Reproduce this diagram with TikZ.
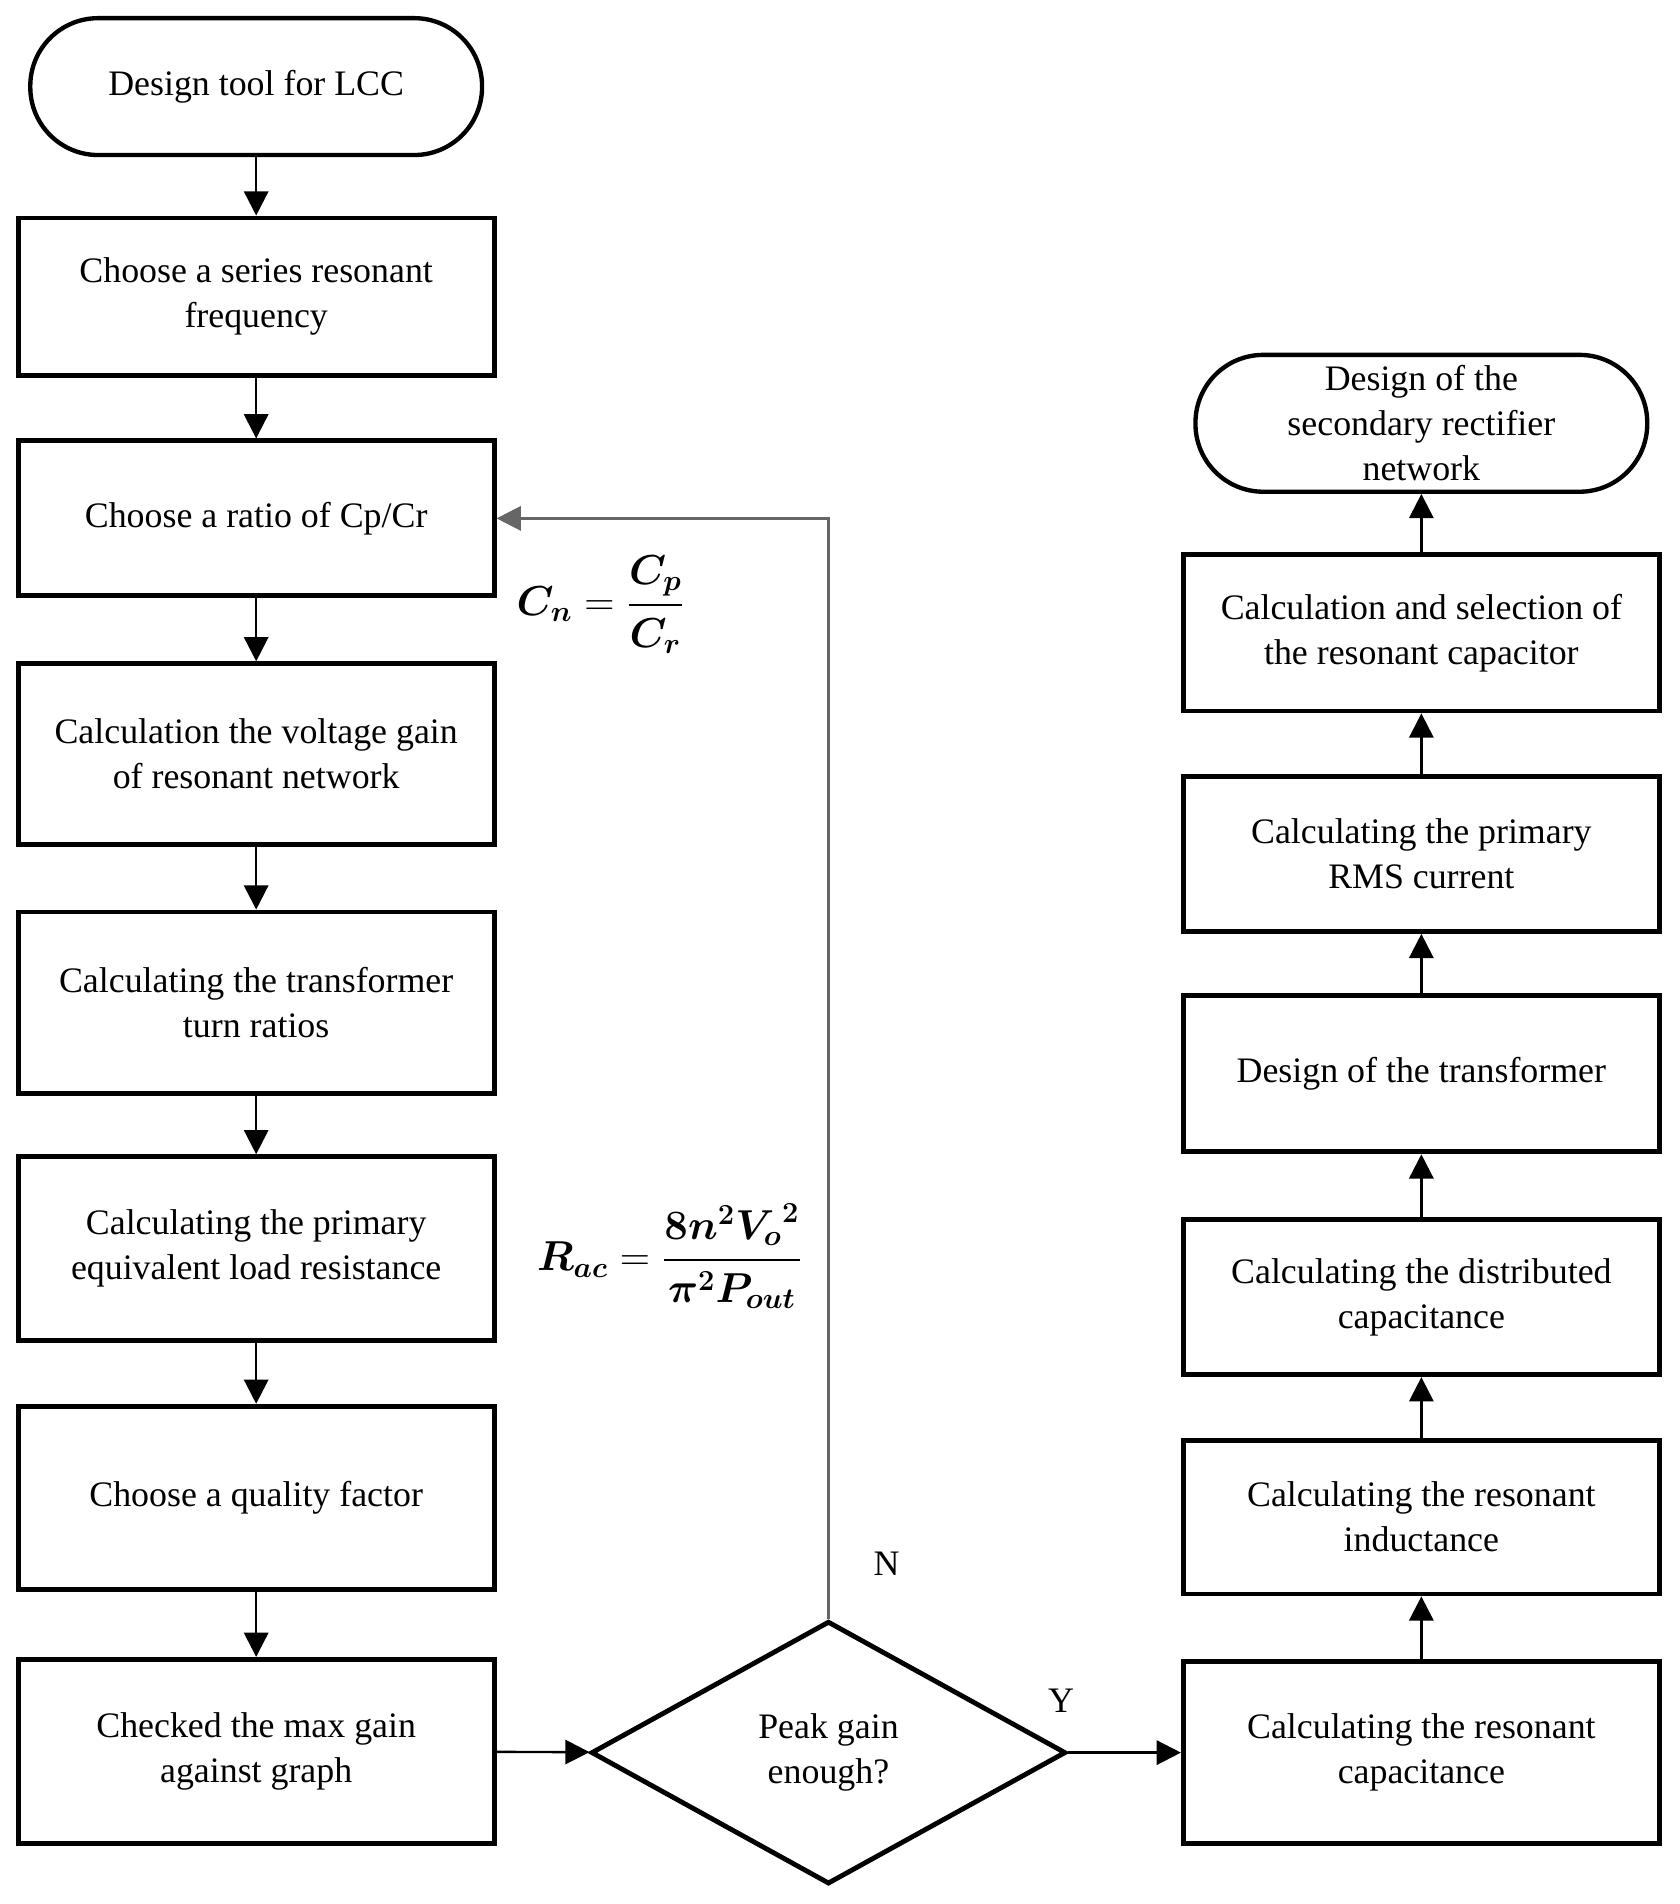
\documentclass[tikz,border=0pt]{standalone}
\usepackage{fontspec}
\setmainfont{Liberation Serif}
\usepackage{amsmath,bm}
\usetikzlibrary{shapes.geometric,arrows.meta}
\newcommand\myfs{\fontsize{14.8pt}{18.6pt}\selectfont}
\begin{document}
\begin{tikzpicture}[x=0.5pt,y=-0.5pt,
  box/.style={draw,line width=2pt,align=center,font=\myfs,inner sep=0pt,minimum width=196.5pt},
  term/.style={draw,line width=1.8pt,align=center,font=\myfs,inner sep=0pt,minimum width=186.5pt,minimum height=56.5pt,rounded corners=28pt},
  arr/.style={line width=1pt,-{Triangle[length=10pt,width=10pt]}},
  fb/.style={line width=1pt,draw=black!60,-{Triangle[length=10pt,width=10pt]}},
  lbl/.style={font=\myfs,inner sep=0pt}]
\useasboundingbox (0,0) rectangle (1387,1572);
% left column
\node[term] (t1) at (211.5,71.5) {Design tool for LCC};
\node[box,minimum height=65pt] (b1) at (211.5,245) {Choose a series resonant\\frequency};
\node[box,minimum height=64pt] (b2) at (211.5,428) {Choose a ratio of Cp/Cr};
\node[box,minimum height=74.5pt] (b3) at (211.5,622.5) {Calculation the voltage gain\\of resonant network};
\node[box,minimum height=75pt] (b4) at (211.5,828) {Calculating the transformer\\turn ratios};
\node[box,minimum height=76pt] (b5) at (211.5,1031) {Calculating the primary\\equivalent load resistance};
\node[box,minimum height=75.5pt] (b6) at (211.5,1236.5) {Choose a quality factor};
\node[box,minimum height=76pt] (b7) at (211.5,1446) {Checked the max gain\\against graph};
% decision
\node[draw,diamond,line width=2pt,inner sep=0pt,aspect=1.806,minimum width=196pt,minimum height=108.5pt,align=center,font=\myfs] (d) at (684,1447) {Peak gain\\enough?};
% right column
\node[box,minimum height=75pt] (r1) at (1173.5,1447) {Calculating the resonant\\capacitance};
\node[box,minimum height=63.5pt] (r2) at (1173.5,1252.5) {Calculating the resonant\\inductance};
\node[box,minimum height=64pt] (r3) at (1173.5,1071) {Calculating the distributed\\capacitance};
\node[box,minimum height=64.5pt] (r4) at (1173.5,886.5) {Design of the transformer};
\node[box,minimum height=64pt] (r5) at (1173.5,705) {Calculating the primary\\RMS current};
\node[box,minimum height=64.5pt] (r6) at (1173.5,522.5) {Calculation and selection of\\the resonant capacitor};
\node[term] (t2) at (1173.5,349.5) {Design of the\\secondary rectifier\\network};
% formulas
\node[inner sep=0pt] (f1) at (496,499) {\fontsize{16.5pt}{20pt}\selectfont$\displaystyle\bm{C_n}=\bm{\frac{C_p}{C_r}}$};
\node[inner sep=0pt] (f2) at (553,1037) {\fontsize{17pt}{20pt}\selectfont$\displaystyle\bm{R_{ac}}=\bm{\frac{8n^2{V_o}^2}{\pi^2P_{out}}}$};
% labels
\node[lbl] (ln) at (732,1291) {N};
\node[lbl] (ly) at (876,1404) {Y};
% connectors
\draw[arr] (t1) -- (b1);
\draw[arr] (b1) -- (b2);
\draw[arr] (b2) -- (b3);
\draw[arr] (b3) -- (b4);
\draw[arr] (b4) -- (b5);
\draw[arr] (b5) -- (b6);
\draw[arr] (b6) -- (b7);
\draw[arr] (b7) -- (d);
\draw[arr] (d) -- (r1);
\draw[fb] (d.north) |- (b2.east);
\draw[arr] (r1) -- (r2);
\draw[arr] (r2) -- (r3);
\draw[arr] (r3) -- (r4);
\draw[arr] (r4) -- (r5);
\draw[arr] (r5) -- (r6);
\draw[arr] (r6) -- (t2);
\end{tikzpicture}
\end{document}
